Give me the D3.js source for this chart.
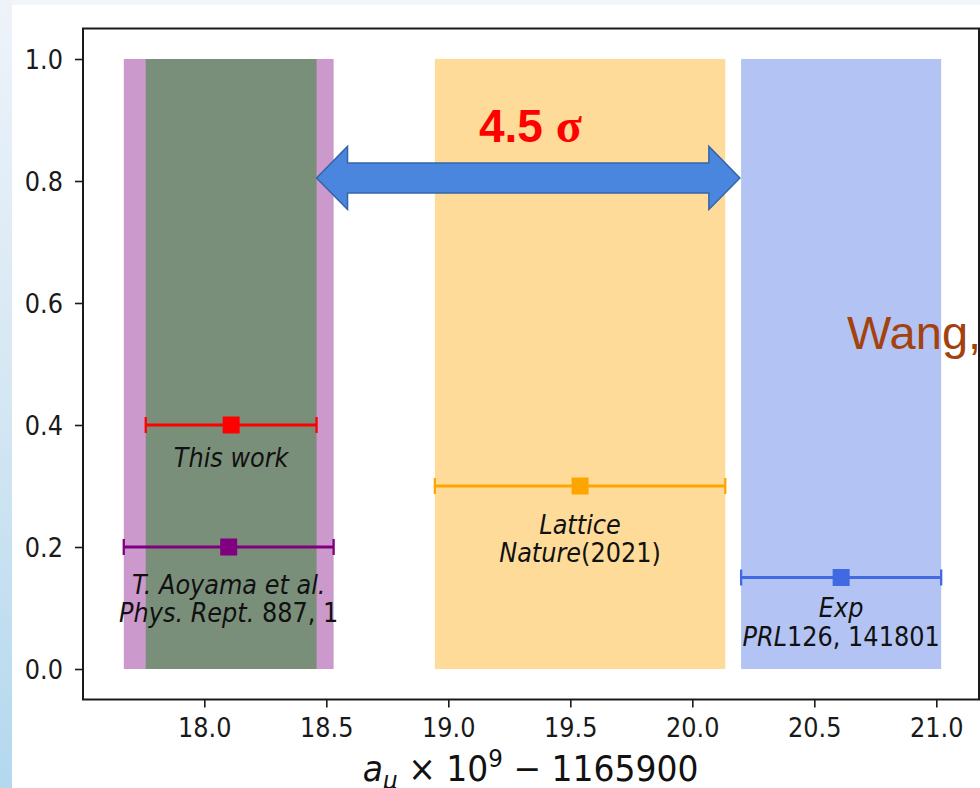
<!DOCTYPE html>
<html><head><meta charset="utf-8">
<script src="https://cdn.jsdelivr.net/npm/d3@7"></script>
<style>html,body{margin:0;padding:0;background:#fff;overflow:hidden}</style>
</head><body><svg id="c" width="980" height="788"></svg>
<script>
// ---------------- data ----------------
const measurements = ["This work", "T. Aoyama et al.", "Lattice", "Exp"];
const centers = [18.11, 18.10, 19.54, 20.61];
const errors = [0.35, 0.43, 0.595, 0.41];
const rowY = [0.40, 0.20, 0.30, 0.15];
const bandRange = [0.0, 1.0];
const bandOrder = [1, 0, 2, 3];
const xTicks = [18.0, 18.5, 19.0, 19.5, 20.0, 20.5, 21.0];
const yTicks = [0.0, 0.2, 0.4, 0.6, 0.8, 1.0];
const xDomain = [17.5, 21.175];
const yDomain = [-0.05, 1.05];
// label lines: each segment [text, italic]
const labelLines = [
  [[["This work", true]]],
  [[["T. Aoyama et al.", true]], [["Phys. Rept.", true], [" 887, 1", false]]],
  [[["Lattice", true]], [["Nature", true], ["(2021)", false]]],
  [[["Exp", true]], [["PRL", true], ["126, 141801", false]]]
];
const arrowFrom = 18.46, arrowTo = 20.195, arrowY = 0.805;
const sigmaLabel = ["4.5 ", "σ"];
const sideNote = "Wang,";

// ---------------- styles ----------------
const bandColors = ["#008000", "#800080", "#ffa500", "#4169e1"];
const barColors = ["#ff0000", "#800080", "#ffa500", "#4169e1"];
const labelFirstOffset = [42, 47, 48, 40];
const labelLineGap = [0, 28.5, 28.5, 29];
const SY = 1.13; // vertical stretch of the chart's text

const svg = d3.select("#c");
const W = 980, H = 788;

// slide background
const defs = svg.append("defs");
const g1 = defs.append("linearGradient").attr("id", "lg").attr("x1", 0).attr("y1", 0).attr("x2", 0).attr("y2", 1);
g1.append("stop").attr("offset", "0%").attr("stop-color", "#eef3f9");
g1.append("stop").attr("offset", "50%").attr("stop-color", "#d5e7f3");
g1.append("stop").attr("offset", "100%").attr("stop-color", "#b3d8ee");
svg.append("rect").attr("x", 0).attr("y", 0).attr("width", W).attr("height", H).attr("fill", "#ffffff");
svg.append("rect").attr("x", 0).attr("y", 0).attr("width", W).attr("height", 5).attr("fill", "#f2f5fa");
svg.append("rect").attr("x", 0).attr("y", 0).attr("width", 12).attr("height", H).attr("fill", "url(#lg)");

const pLeft = 82.3, pTop = 28.5, pBottom = 699.5;
const x = d3.scaleLinear().domain(xDomain).range([pLeft, pLeft + (xDomain[1] - xDomain[0]) * 244]);
const y = d3.scaleLinear().domain(yDomain).range([pBottom, pTop]);

const plot = svg.append("g");

// bands
bandOrder.forEach(i => {
  plot.append("rect")
    .attr("x", x(centers[i] - errors[i]))
    .attr("width", x(centers[i] + errors[i]) - x(centers[i] - errors[i]))
    .attr("y", y(bandRange[1]))
    .attr("height", y(bandRange[0]) - y(bandRange[1]))
    .attr("fill", bandColors[i]).attr("fill-opacity", 0.4);
});

// error bars
centers.forEach((c, i) => {
  const g = plot.append("g").attr("stroke", barColors[i]).attr("fill", barColors[i]);
  const yy = y(rowY[i]);
  g.append("line").attr("x1", x(c - errors[i])).attr("x2", x(c + errors[i]))
    .attr("y1", yy).attr("y2", yy).attr("stroke-width", 2.8);
  [c - errors[i], c + errors[i]].forEach(v => {
    g.append("line").attr("x1", x(v)).attr("x2", x(v)).attr("y1", yy - 8).attr("y2", yy + 8).attr("stroke-width", 2.3);
  });
  g.append("rect").attr("x", x(c) - 8.5).attr("y", yy - 8.5).attr("width", 17).attr("height", 17).attr("stroke", "none");
});

// labels
labelLines.forEach((lines, i) => {
  lines.forEach((segs, j) => {
    const t = plot.append("text")
      .attr("x", x(centers[i]))
      .attr("y", (y(rowY[i]) + labelFirstOffset[i] + j * labelLineGap[i]) / SY)
      .attr("transform", `scale(1,${SY})`)
      .attr("text-anchor", "middle")
      .attr("font-family", "DejaVu Sans")
      .attr("font-size", 24)
      .attr("fill", "#111");
    segs.forEach(s => {
      t.append("tspan").attr("font-style", s[1] ? "oblique" : "normal").text(s[0]);
    });
  });
});

// axes
const xAxis = d3.axisBottom(x).tickValues(xTicks).tickFormat(d3.format(".1f")).tickSize(8).tickPadding(9);
const yAxis = d3.axisLeft(y).tickValues(yTicks).tickFormat(d3.format(".1f")).tickSize(8).tickPadding(12);
const gx = svg.append("g").attr("transform", `translate(0,${pBottom})`).call(xAxis);
const gy = svg.append("g").attr("transform", `translate(${pLeft + 0.7},0)`).call(yAxis);
[gx, gy].forEach(g => {
  g.select(".domain").remove();
  g.selectAll(".tick line").attr("stroke", "#1a1a1a").attr("stroke-width", 1.6);
  g.selectAll(".tick text").attr("font-family", "DejaVu Sans").attr("font-size", 24).attr("fill", "#1a1a1a")
    .attr("transform", `scale(1,${SY})`).attr("dy", 0);
});
gx.selectAll(".tick text").attr("y", 37.3 / SY);
gy.selectAll(".tick text").attr("y", 9.8 / SY);

// spines
svg.append("rect").attr("x", pLeft + 0.7).attr("y", pTop).attr("width", x(xDomain[1]) - pLeft - 0.7).attr("height", pBottom - pTop)
  .attr("fill", "none").attr("stroke", "#1a1a1a").attr("stroke-width", 2);

// x label
const xl = svg.append("text").attr("x", (pLeft + x(xDomain[1])) / 2).attr("y", 781 / 1.08)
  .attr("transform", "scale(1,1.08)")
  .attr("text-anchor", "middle").attr("font-family", "DejaVu Sans").attr("font-size", 33).attr("fill", "#111");
xl.append("tspan").attr("font-style", "oblique").text("a");
xl.append("tspan").attr("font-style", "oblique").attr("font-size", 23).attr("dy", 7).text("μ");
xl.append("tspan").attr("dy", -7).text(" × 10");
xl.append("tspan").attr("font-size", 23).attr("dy", -13).text("9");
xl.append("tspan").attr("dy", 13).text(" − 1165900");

// double arrow
const ax1 = x(arrowFrom), ax2 = x(arrowTo), ay = y(arrowY);
const headLen = 31, headHalf = 31.5, shaftHalf = 15;
const p = d3.path();
p.moveTo(ax1, ay);
p.lineTo(ax1 + headLen, ay - headHalf);
p.lineTo(ax1 + headLen, ay - shaftHalf);
p.lineTo(ax2 - headLen, ay - shaftHalf);
p.lineTo(ax2 - headLen, ay - headHalf);
p.lineTo(ax2, ay);
p.lineTo(ax2 - headLen, ay + headHalf);
p.lineTo(ax2 - headLen, ay + shaftHalf);
p.lineTo(ax1 + headLen, ay + shaftHalf);
p.lineTo(ax1 + headLen, ay + headHalf);
p.closePath();
svg.append("path").attr("d", p.toString()).attr("fill", "#4a86dd").attr("stroke", "#3565a8").attr("stroke-width", 1.5).attr("stroke-linejoin", "miter");

// 4.5 sigma
const st = svg.append("text").attr("x", 479).attr("y", 142)
  .attr("font-family", "Liberation Sans").attr("font-weight", "bold").attr("font-size", 46).attr("fill", "#ff0000");
st.append("tspan").text(sigmaLabel[0]);
st.append("tspan").attr("font-family", "Liberation Serif").attr("font-size", 48).text(sigmaLabel[1]);

// side note
svg.append("text").attr("x", 847).attr("y", 349).attr("font-family", "Liberation Sans").attr("font-size", 47)
  .attr("fill", "#a3420f").text(sideNote);
</script></body></html>
